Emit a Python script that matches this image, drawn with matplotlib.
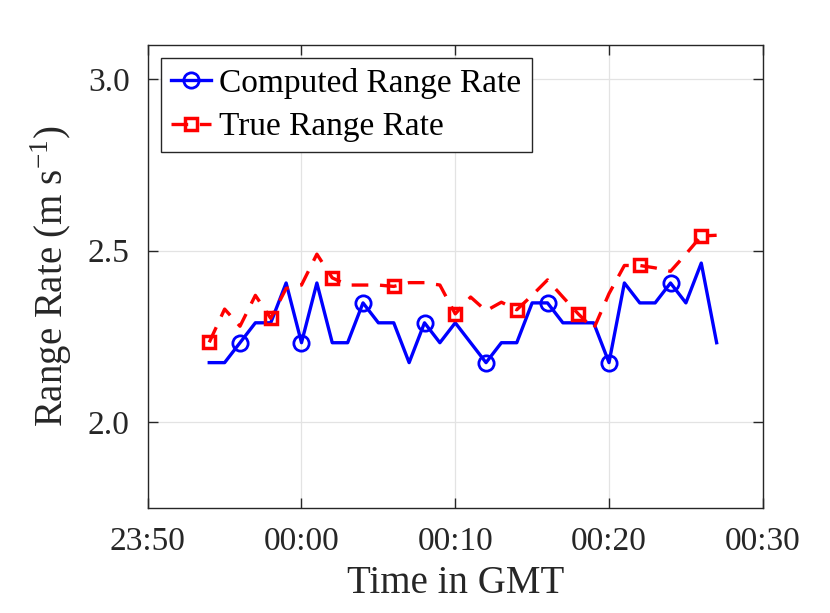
import numpy as np
import pandas as pd
import matplotlib
matplotlib.use("Agg")
import matplotlib.pyplot as plt
import matplotlib.dates as mdates

# Datos (un valor por minuto, 23:54 -> 00:27)
inicio = "2000-01-01 23:54"
computed = [
    2.174, 2.174, 2.232, 2.290, 2.290, 2.406, 2.232, 2.406, 2.232, 2.232,
    2.348, 2.290, 2.290, 2.174, 2.290, 2.232, 2.290, 2.232, 2.174, 2.232,
    2.232, 2.348, 2.348, 2.290, 2.290, 2.290, 2.174, 2.406, 2.348, 2.348,
    2.406, 2.348, 2.464, 2.232,
]
true_rate = [
    2.233, 2.330, 2.280, 2.370, 2.303, 2.390, 2.400, 2.490, 2.421, 2.400,
    2.400, 2.400, 2.396, 2.407, 2.407, 2.400, 2.316, 2.365, 2.325, 2.350,
    2.328, 2.370, 2.415, 2.365, 2.316, 2.272, 2.375, 2.457, 2.457, 2.450,
    2.440, 2.490, 2.543, 2.545,
]
tiempos = pd.date_range(inicio, periods=len(computed), freq="min")
x_lim = (pd.Timestamp("2000-01-01 23:50"), pd.Timestamp("2000-01-02 00:30"))

plt.rcParams["font.family"] = ["Liberation Serif", "DejaVu Serif"]
plt.rcParams["mathtext.fontset"] = "custom"
plt.rcParams["mathtext.rm"] = "Liberation Serif"

fig = plt.figure(figsize=(8.3, 6.13), dpi=100)
ax = fig.add_axes([0.178, 0.171, 0.741, 0.756])

ax.plot(tiempos, computed, color="blue", lw=2.4, marker="o", ms=11,
        mfc="none", mew=2.0, markevery=(2, 4), label="Computed Range Rate")
ax.plot(tiempos, true_rate, color="red", lw=2.4, ls=(0, (5, 3.5)), marker="s",
        ms=8, mfc="none", mew=2.5, markevery=(0, 4), label="True Range Rate")

ax.set_xlim(x_lim)
ax.set_ylim(1.75, 3.1)
ax.set_yticks([2.0, 2.5, 3.0])
ax.yaxis.set_major_formatter(matplotlib.ticker.FormatStrFormatter("%.1f"))
ax.xaxis.set_major_locator(mdates.MinuteLocator(byminute=[0, 10, 20, 30, 40, 50]))
ax.xaxis.set_major_formatter(mdates.DateFormatter("%H:%M"))

ax.grid(True, color="#e3e3e3", lw=0.9)
ax.set_axisbelow(True)
ax.tick_params(direction="in", top=True, right=True, length=7, width=1,
               colors="#262626", labelsize=24, pad=13)
for s in ax.spines.values():
    s.set_color("#262626")
    s.set_linewidth(1.0)

ax.set_xlabel("Time in GMT", fontsize=28, color="#262626", labelpad=6)
ax.set_ylabel(r"Range Rate (m s$^{\mathrm{-1}}$)", fontsize=28,
              color="#262626", labelpad=10)

leg = ax.legend(loc="upper left", fontsize=24, handlelength=1.2,
                handletextpad=0.25, borderpad=0.3, labelspacing=0.38,
                borderaxespad=0.4, fancybox=False, framealpha=1)
leg.get_frame().set_edgecolor("#262626")
leg.get_frame().set_linewidth(1.0)

fig.savefig("out.png", dpi=100)
